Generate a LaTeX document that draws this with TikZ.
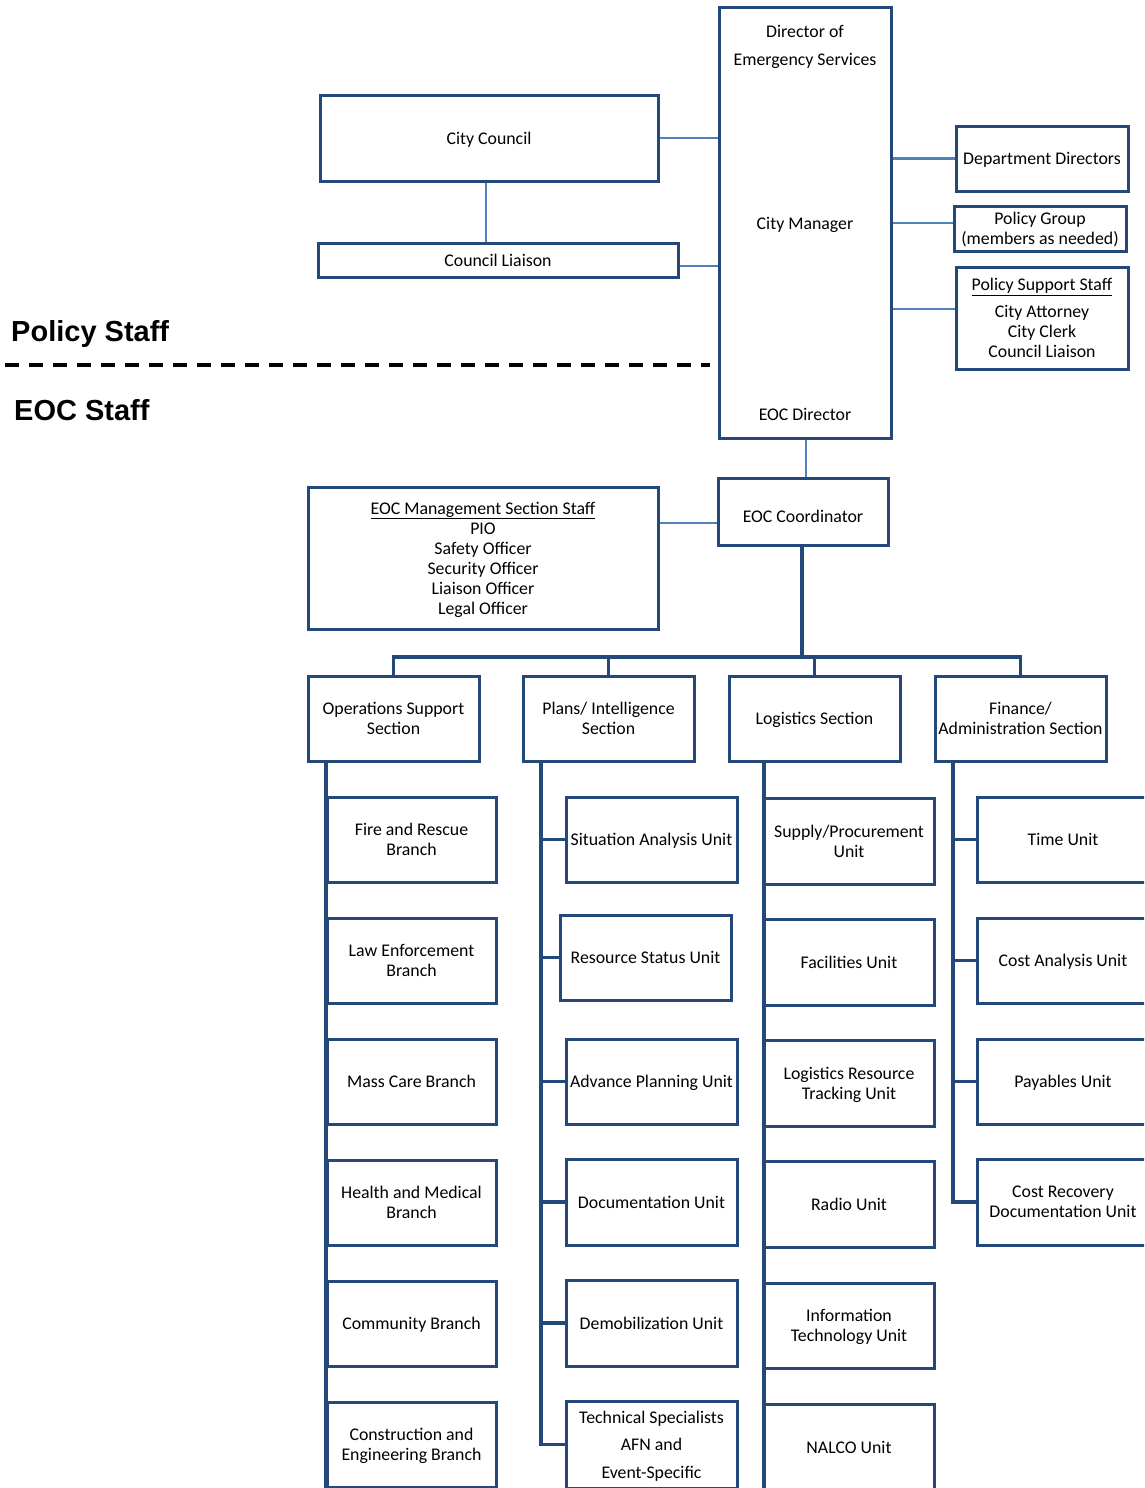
\documentclass[tikz,border=0pt]{standalone}
\usepackage{fontspec}
\setmainfont{Carlito}
\newfontfamily\headfont{Liberation Sans}
\definecolor{boxblue}{RGB}{36,72,122}
\definecolor{linkblue}{RGB}{79,129,189}
\newcommand\mybox[7][]{\node[box,minimum width=#5pt,minimum height=#6pt,#1] (#2) at (#3,#4) {#7};}
\begin{document}
\begin{tikzpicture}[x=1pt,y=-1pt,
  box/.style={draw=boxblue, line width=3pt, fill=white, inner sep=1pt, align=center, text depth=0pt, font=\fontsize{17.8}{20}\selectfont},
  lbl/.style={inner sep=0pt, align=center, text depth=0pt, font=\fontsize{17.8}{20}\selectfont},
  head/.style={inner sep=0pt, anchor=west, text depth=0pt, font=\headfont\bfseries\fontsize{29}{32}\selectfont},
  link/.style={draw=linkblue, line width=2.2pt},
  tree/.style={draw=boxblue, line width=3.5pt},
  sep/.style={draw=black, line width=4pt, dash pattern=on 14pt off 10pt}]
\useasboundingbox (0,0) rectangle (1144,1488);
\clip (0,0) rectangle (1144,1488);
\fill[white] (0,0) rectangle (1144,1488);

% ---------- Policy staff ----------
\mybox{dir}{805}{223}{172}{430}{}
\node[lbl] (dirA) at (805,31) {Director of};
\node[lbl] (dirB) at (805,59) {Emergency Services};
\node[lbl] (dirC) at (805,223) {City Manager};
\node[lbl] (dirD) at (805,414) {EOC Director};

\mybox{cc}{489}{138}{338}{86}{City Council}
\mybox{cl}{498}{260}{360}{34}{Council Liaison}
\mybox{dd}{1042}{158.5}{172}{65}{Department Directors}
\mybox{pg}{1040}{228.5}{172}{45}{Policy Group\\(members as needed)}
\mybox{pss}{1042}{318}{172}{102}{\underline{Policy Support Staff}\\[7pt]City Attorney\\City Clerk\\Council Liaison}

\coordinate (clE) at ([yshift=-6pt]cl.east);
\coordinate (ccS) at ([xshift=-3pt]cc.south);
\coordinate (pgW) at ([yshift=5.5pt]pg.west);
\coordinate (pssW) at ([yshift=9pt]pss.west);
\draw[link] (cc.east) -- (cc.east -| dir.west);
\draw[link] (clE) -- (clE -| dir.west);
\draw[link] (ccS) -- (ccS |- cl.north);
\draw[link] (dir.east |- dd.west) -- (dd.west);
\draw[link] (dir.east |- pgW) -- (pgW);
\draw[link] (dir.east |- pssW) -- (pssW);

\node[head] (hpol) at (11,331) {Policy Staff};
\node[head] (heoc) at (14,410) {EOC Staff};
\coordinate (sepA) at (5,365);
\coordinate (sepB) at (710,365);
\draw[sep] (sepA) -- (sepB);

% ---------- EOC staff ----------
\mybox[text height=21pt]{eocc}{803}{511.5}{170}{67}{EOC Coordinator}
\mybox{mgmt}{483}{558}{350}{142}{\underline{EOC Management Section Staff}\\PIO\\Safety Officer\\Security Officer\\Liaison Officer\\Legal Officer}
\coordinate (dirS) at ([xshift=1pt]dir.south);
\coordinate (eoccW) at ([yshift=-11.5pt]eocc.west);
\draw[link] (dirS) -- (dirS |- eocc.north);
\draw[link] (mgmt.east |- eoccW) -- (eoccW);

% sections
\mybox{ops}{393.5}{718.5}{171}{85}{Operations Support\\Section}
\mybox{plans}{608.5}{718.5}{171}{85}{Plans/ Intelligence\\Section}
\mybox{log}{814.5}{718.5}{171}{85}{Logistics Section}
\mybox{fin}{1020.5}{718.5}{171}{85}{Finance/\\Administration Section}

\coordinate (bus) at (802,657);
\coordinate (eoccS) at ([xshift=-1pt]eocc.south);
\draw[tree] (eoccS) -- (bus);
\draw[tree] (ops.north) -- (ops.north |- bus) -- (fin.north |- bus) -- (fin.north);
\draw[tree] (plans.north) -- (plans.north |- bus);
\draw[tree] (log.north) -- (log.north |- bus);

% operations column
\coordinate (opsTop) at (326,761);
\coordinate (opsEnd) at (326,1490);
\draw[tree] (opsTop) -- (opsEnd);
\mybox{fire}{411.5}{839.5}{169}{85}{Fire and Rescue\\Branch}
\mybox{law}{411.5}{960.5}{169}{85}{Law Enforcement\\Branch}
\mybox{mass}{411.5}{1081.5}{169}{85}{Mass Care Branch}
\mybox{health}{411.5}{1202.5}{169}{85}{Health and Medical\\Branch}
\mybox{comm}{411.5}{1323.5}{169}{85}{Community Branch}
\mybox{cons}{411.5}{1444.5}{169}{85}{Construction and\\Engineering Branch}

% plans column
\coordinate (plTop) at (541,761);
\mybox{sit}{651.5}{839.5}{171}{85}{Situation Analysis Unit}
\mybox{res}{645.5}{957.5}{171}{85}{Resource Status Unit}
\mybox{adv}{651.5}{1081.5}{171}{85}{Advance Planning Unit}
\mybox{doc}{651.5}{1202}{171}{86}{Documentation Unit}
\mybox{demob}{651.5}{1323}{171}{86}{Demobilization Unit}
\mybox{tech}{651.5}{1444.5}{171}{87}{Technical Specialists\\[7.5pt]AFN and\\[7.5pt]Event-Specific}
\draw[tree] (plTop) |- (tech.west);
\foreach \b in {sit,res,adv,doc,demob} \draw[tree] (\b.west) -- (\b.west -| plTop);

% logistics column
\coordinate (lgTop) at (764,761);
\coordinate (lgEnd) at (764,1490);
\draw[tree] (lgTop) -- (lgEnd);
\mybox{sup}{849}{841}{170}{86}{Supply/Procurement\\Unit}
\mybox{fac}{849}{962}{170}{86}{Facilities Unit}
\mybox{lrt}{849}{1083}{170}{86}{Logistics Resource\\Tracking Unit}
\mybox{radio}{849}{1204}{170}{86}{Radio Unit}
\mybox{it}{849}{1325.5}{170}{85}{Information\\Technology Unit}
\mybox{nalco}{849}{1447}{170}{86}{NALCO Unit}

% finance column
\coordinate (fnTop) at (953,761);
\mybox{time}{1063}{839.5}{172}{85}{Time Unit}
\mybox{cost}{1063}{960.5}{172}{85}{Cost Analysis Unit}
\mybox{pay}{1063}{1081.5}{172}{85}{Payables Unit}
\mybox{rec}{1063}{1202}{172}{86}{Cost Recovery\\Documentation Unit}
\draw[tree] (fnTop) |- (rec.west);
\foreach \b in {time,cost,pay} \draw[tree] (\b.west) -- (\b.west -| fnTop);
\end{tikzpicture}
\end{document}
